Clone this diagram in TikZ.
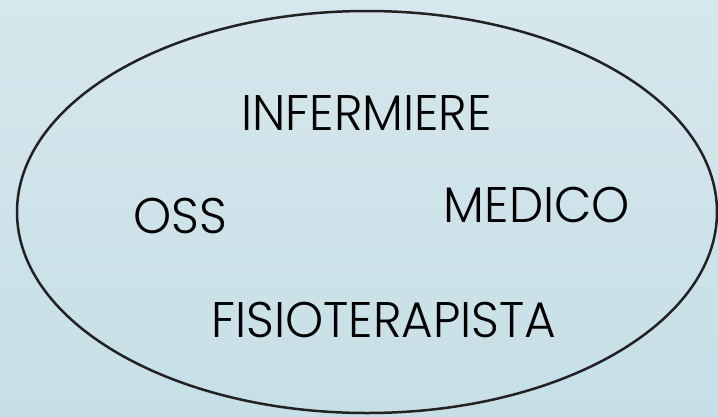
\documentclass[tikz,border=0pt]{standalone}
\usepackage{fontspec}
\usetikzlibrary{shapes.geometric}
\newfontfamily\gothic[FakeStretch=0.97, UprightFont={* Light}]{Poppins}
\definecolor{bgtop}{RGB}{214,231,237}
\definecolor{bgbot}{RGB}{198,223,230}
\definecolor{rim}{RGB}{34,34,34}
\begin{document}
\begin{tikzpicture}[x=1pt,y=-1pt,
  role/.style={font=\gothic\fontsize{50}{50}\selectfont, inner sep=0pt, anchor=base}]
% background
\shade[top color=bgtop, bottom color=bgbot] (0,0) rectangle (718,416);
\useasboundingbox (0,0) rectangle (718,416);
% the team
\node[draw=rim, line width=2.5pt, ellipse, inner sep=0pt, minimum width=700pt, minimum height=402pt] (team) at (367,212) {};
\node[role] (inf) at (366.5,130) {INFERMIERE};
\node[role] (oss) at (180.5,233) {OSS};
\node[role] (med) at (537,222) {MEDICO};
\node[role] (fis) at (384,337) {FISIOTERAPISTA};
\end{tikzpicture}
\end{document}
